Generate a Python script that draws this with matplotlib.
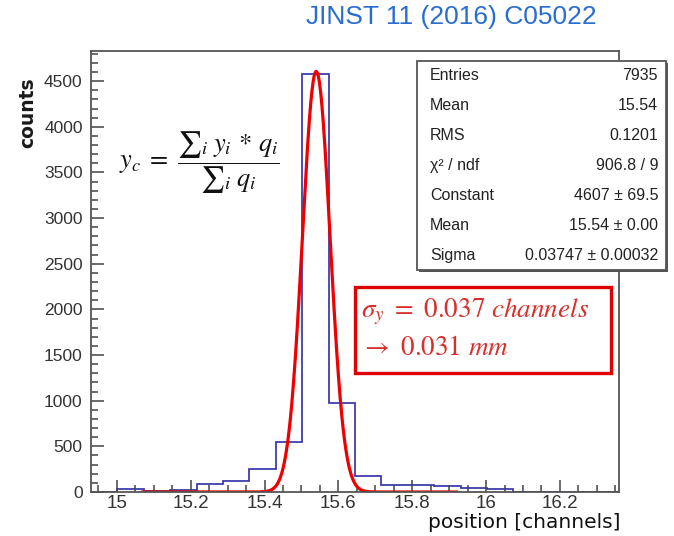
import numpy as np
import matplotlib
matplotlib.use("Agg")
import matplotlib.pyplot as plt
from matplotlib.patches import Rectangle
from matplotlib.ticker import MultipleLocator, FixedLocator, FuncFormatter

plt.rcParams["mathtext.fontset"] = "stix"

# histogram of reconstructed cluster position, 20 bins
bin_lo, bin_hi, n_bins = 14.93, 16.36, 20
counts = [5, 35, 15, 25, 88, 118, 255, 550, 4580, 980,
          180, 73, 80, 66, 44, 36, 4, 3, 2, 1]

# gaussian fit result
fit_const = 4607
fit_mean = 15.54
fit_sigma = 0.03747
fit_range = (15.07, 15.92)

stats_labels = ["Entries", "Mean", "RMS", "χ² / ndf", "Constant", "Mean", "Sigma"]
stats_values = ["7935", "15.54", "0.1201", "906.8 / 9", "4607 ± 69.5",
                "15.54 ± 0.00", "0.03747 ± 0.00032"]

xticks = [15.0, 15.2, 15.4, 15.6, 15.8, 16.0, 16.2]
yticks = [0, 500, 1000, 1500, 2000, 2500, 3000, 3500, 4000, 4500]

W, H = 674, 536
fig = plt.figure(figsize=(W / 100, H / 100), dpi=100)


def fx(px):
    return px / W


def fy(py):
    return 1 - py / H


ax = fig.add_axes([fx(91), fy(492), fx(619) - fx(91), fy(51) - fy(492)])

edges = np.linspace(bin_lo, bin_hi, n_bins + 1)
ax.stairs(counts, edges, color="#3636aa", lw=1.25, baseline=0)

xf = np.linspace(fit_range[0], fit_range[1], 500)
yf = fit_const * np.exp(-0.5 * ((xf - fit_mean) / fit_sigma) ** 2)
ax.plot(xf, yf, color="#ee0000", lw=2.3)

ax.set_xlim(bin_lo, bin_hi)
ax.set_ylim(0, 4830)

ax.xaxis.set_major_locator(FixedLocator(xticks))
ax.xaxis.set_minor_locator(MultipleLocator(0.05))
ax.xaxis.set_major_formatter(FuncFormatter(lambda v, p: "%g" % round(v, 2)))
ax.yaxis.set_major_locator(FixedLocator(yticks))
ax.yaxis.set_minor_locator(MultipleLocator(100))

ax.tick_params(which="both", direction="in", top=False, right=False,
               color="#444444", width=1.1)
ax.tick_params(which="major", length=9)
ax.tick_params(which="minor", length=5)
ax.tick_params(axis="x", labelsize=13.5, pad=2)
ax.tick_params(axis="y", labelsize=12.5, pad=6)
for lab in ax.get_xticklabels() + ax.get_yticklabels():
    lab.set_fontfamily("Liberation Sans")
    lab.set_color("#333333")

for s in ax.spines.values():
    s.set_color("#555555")
    s.set_linewidth(1.3)

fig.text(fx(28), fy(113), "counts", rotation=90, ha="center", va="center",
         fontsize=13.5, family="DejaVu Sans", weight="bold", color="#1a1a1a")
fig.text(fx(620), fy(523), "position [channels]", ha="right", va="center",
         fontsize=14.5, family="DejaVu Sans", color="#111111")

fig.text(fx(451), fy(17), "JINST 11 (2016) C05022", ha="center", va="center",
         fontsize=19, family="Liberation Sans", color="#2a6dd0")

# centroid formula
fig.text(fx(119), fy(163), r"$y_c\;=\;\dfrac{∑_i\; y_i\, *\, q_i}{∑_i\; q_i}$",
         ha="left", va="center", fontsize=19, color="#111111")

# stats box
bx0, by0, bx1, by1 = 417, 61, 666, 270
fig.patches.append(Rectangle((fx(bx0 + 2), fy(by1 + 2)), fx(bx1) - fx(bx0),
                             fy(by0) - fy(by1), transform=fig.transFigure,
                             facecolor="#555555", edgecolor="none", zorder=5))
fig.patches.append(Rectangle((fx(bx0), fy(by1)), fx(bx1) - fx(bx0),
                             fy(by0) - fy(by1), transform=fig.transFigure,
                             facecolor="white", edgecolor="#555555", lw=1.3,
                             zorder=6))
row_h = (by1 - by0) / len(stats_labels)
for i, (lab, val) in enumerate(zip(stats_labels, stats_values)):
    yy = by0 + row_h * (i + 0.5)
    fig.text(fx(430), fy(yy), lab, ha="left", va="center", fontsize=11.5,
             family="Liberation Sans", color="#222222", zorder=7)
    fig.text(fx(658), fy(yy), val, ha="right", va="center", fontsize=11.5,
             family="Liberation Sans", color="#222222", zorder=7)

# resolution box
fig.patches.append(Rectangle((fx(355), fy(373)), fx(611) - fx(355),
                             fy(287) - fy(373), transform=fig.transFigure,
                             facecolor="white", edgecolor="#e00000", lw=2.4,
                             zorder=5))
fig.text(fx(361), fy(312), r"$\sigma_y\ =\ 0.037\ channels$", ha="left",
         va="center", fontsize=19.5, color="#d8302c", zorder=6)
fig.text(fx(361), fy(348), r"$\rightarrow\ 0.031\ mm$", ha="left",
         va="center", fontsize=19.5, color="#d8302c", zorder=6)

fig.savefig("out.png", dpi=100)
